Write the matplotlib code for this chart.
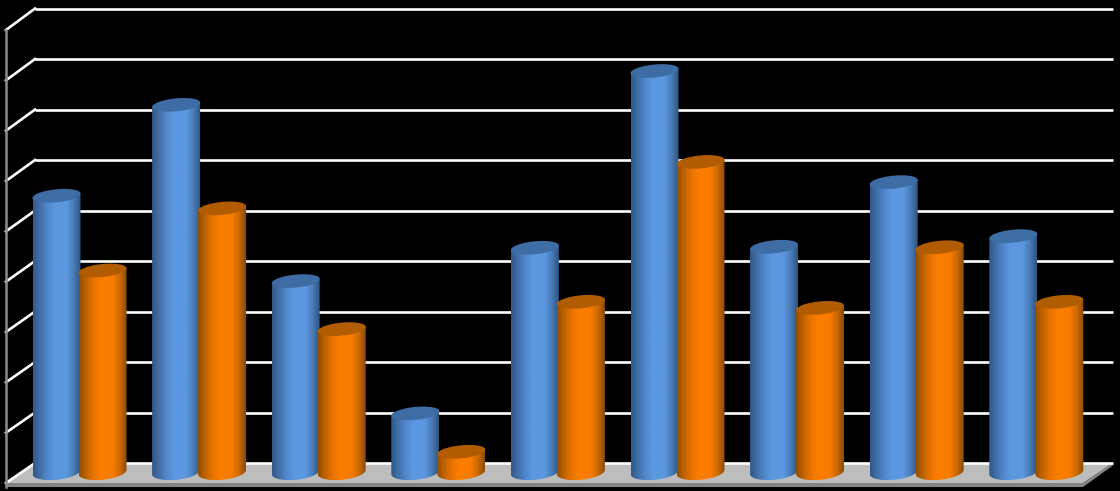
import numpy as np
import matplotlib
matplotlib.use("Agg")
from matplotlib import pyplot as plt
from matplotlib.colors import LinearSegmentedColormap
from matplotlib.patches import Polygon

# values (one grid step = 1)
categories = list(range(9))
blue_values = [5.47, 7.27, 3.78, 1.16, 4.44, 7.94, 4.46, 5.74, 4.67]
orange_values = [3.99, 5.22, 2.83, 0.40, 3.37, 6.14, 3.25, 4.45, 3.37]
grid_levels = list(range(10))

# axes units: x = category number, y = value
step_x = 119.6
step_y = 50.5
bar_w = 48 / step_x
off = 23 / step_x
rx = bar_w / 2
ry = 6.5 / step_y
tilt = 2.2 / step_y

# plot box corners
x_front_l, x_back_l = -0.615, -0.372
x_back_r, x_front_r = 8.64, 8.39
y_back, y_front = 0.178, -0.218
front_step = 0.9967

blue_map = LinearSegmentedColormap.from_list("b", [(0, "#33598a"), (0.12, "#3f6ca3"), (0.3, "#5188cc"), (0.45, "#5c98e0"),
                                                   (0.7, "#5c98e0"), (0.85, "#4a7dba"), (1, "#30557f")])
orange_map = LinearSegmentedColormap.from_list("o", [(0, "#934e00"), (0.12, "#b86000"), (0.3, "#e87300"), (0.45, "#fb7e00"),
                                                     (0.7, "#f97c00"), (0.85, "#cf6b04"), (1, "#8a4e0a")])

fig = plt.figure(figsize=(11.2, 4.91), dpi=100, facecolor="black")
ax = fig.add_axes([0, 0, 1, 1], facecolor="black")


def cylinder(cx, value, cmap, cap):
    t = np.linspace(0, np.pi, 60)
    xs = cx - rx * np.cos(t)
    low = -ry * 1.2 * np.sin(t) - tilt * np.cos(t)
    top = value - tilt * np.cos(t[::-1])
    body = Polygon(np.c_[np.r_[xs, xs[::-1]], np.r_[low, top]], closed=True, fc="none", ec="none", zorder=4)
    ax.add_patch(body)
    grad = cmap(np.linspace(0, 1, 80))[None, :, :]
    im = ax.imshow(grad, extent=[cx - rx, cx + rx, -1, value + 1], aspect="auto", zorder=4)
    im.set_clip_path(body)
    t2 = np.linspace(0, 2 * np.pi, 120)
    ax.fill(cx + rx * np.cos(t2), value + ry * np.sin(t2) + tilt * np.cos(t2), color=cap, lw=0, zorder=4)


# floor and its darker front edge
ax.add_patch(Polygon([(x_front_l, y_front - 0.08), (x_front_r, y_front - 0.08), (x_back_r, y_back - 0.05),
                      (x_back_r, y_back), (x_front_r, y_front), (x_front_l, y_front)],
                     closed=True, fc="#858585", ec="none", zorder=1))
ax.add_patch(Polygon([(x_front_l, y_front), (x_back_l, y_back), (x_back_r, y_back), (x_front_r, y_front)],
                     closed=True, fc="#bdbdbd", ec="none", zorder=1))

# back wall grid and the slanted lines on the side wall
for k in grid_levels:
    ax.plot([x_back_l, x_back_r], [y_back + k, y_back + k], color="white", lw=1.9, zorder=2, solid_capstyle="butt")
    ax.plot([x_front_l, x_back_l], [y_front + k * front_step, y_back + k], color="white", lw=1.9, zorder=2)
ax.plot([x_front_l, x_front_l], [y_front - 0.08, y_front + 9 * front_step], color="#8c8c8c", lw=1.8, zorder=3)

for i, b, o in zip(categories, blue_values, orange_values):
    cylinder(i - off, b, blue_map, "#3e6da6")
    cylinder(i + off, o, orange_map, "#b15c00")

ax.set_xlim(-79.5 / step_x, (1120 - 79.5) / step_x)
ax.set_ylim(-19 / step_y, 472 / step_y)
ax.axis("off")

plt.savefig("out.png", dpi=100, facecolor="black")
